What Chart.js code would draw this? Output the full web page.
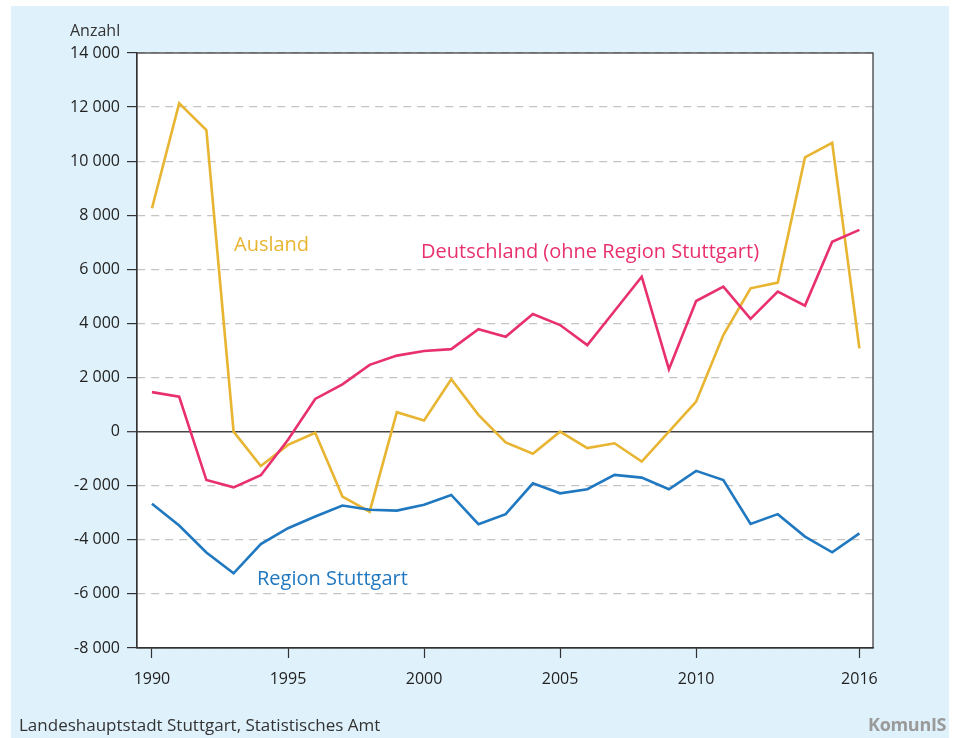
<!DOCTYPE html>
<html lang="de">
<head>
<meta charset="utf-8">
<script src="https://cdn.jsdelivr.net/npm/chart.js@4"></script>
<style>
  html, body { margin: 0; padding: 0; background: #fff; }
  body { width: 954px; height: 738px; position: relative; overflow: hidden;
         font-family: "Open Sans", "Noto Sans", sans-serif; }
  #panel { position: absolute; left: 11px; top: 6px; width: 938px; height: 732px; background: #dff1fb; }
  #wrap { position: absolute; left: 0; top: 0; width: 954px; height: 738px; }
  .txt { position: absolute; white-space: nowrap; line-height: 1; }
  #unit { left: 70px; top: 22px; font-size: 16px; color: #333; }
  #source { left: 19px; top: 716px; font-size: 17px; color: #333; }
  #logo { left: 868px; top: 715px; font-size: 18px; font-weight: bold; color: #9a9a9a; letter-spacing: -0.3px; }
</style>
</head>
<body>
<div id="panel"></div>
<div id="wrap"><canvas id="chart" width="954" height="738"></canvas></div>
<div class="txt" id="unit">Anzahl</div>
<div class="txt" id="source">Landeshauptstadt Stuttgart, Statistisches Amt</div>
<div class="txt" id="logo">KomunIS</div>

<script>
// ── Daten: Wanderungssaldo Stuttgart ──
const years = [1990,1991,1992,1993,1994,1995,1996,1997,1998,1999,2000,2001,2002,2003,
               2004,2005,2006,2007,2008,2009,2010,2011,2012,2013,2014,2015,2016];
const ausland = [8260,12140,11150,0,-1270,-490,-40,-2400,-2960,720,410,1940,620,-400,
                 -820,0,-610,-430,-1110,0,1110,3570,5300,5510,10140,10680,3080];
const deutschland = [1460,1290,-1790,-2060,-1610,-300,1210,1750,2470,2810,2980,3050,3790,3510,
                     4350,3940,3200,4460,5730,2310,4830,5360,4170,5180,4660,7020,7460];
const region = [-2670,-3470,-4470,-5240,-4160,-3570,-3140,-2730,-2890,-2920,-2700,-2340,-3420,-3050,
                -1910,-2280,-2130,-1600,-1700,-2130,-1450,-1790,-3410,-3050,-3880,-4460,-3760];
const xTicks = [1990, 1995, 2000, 2005, 2010, 2016];
const yTicks = [-8000,-6000,-4000,-2000,0,2000,4000,6000,8000,10000,12000,14000];

const C_AUS = '#e8b532';
const C_DE  = '#e8306e';
const C_REG = '#1f78c0';

const pts = arr => arr.map((v, i) => ({ x: years[i], y: v }));
const fmtNum = v => (v < 0 ? '-' : '') + Math.abs(v).toString().replace(/\B(?=(\d{3})+(?!\d))/g, ' ');

// ── weißer Plotbereich, Rahmen + Beschriftungen ──
const framePlugin = {
    id: 'frame',
    beforeDraw(chart) {
        const { ctx, chartArea: a } = chart;
        ctx.save();
        ctx.fillStyle = '#fff';
        ctx.fillRect(a.left, a.top, a.right - a.left, a.bottom - a.top);
        ctx.restore();
    },
    afterDraw(chart) {
        const { ctx, chartArea: a } = chart;
        ctx.save();
        ctx.strokeStyle = '#333';
        ctx.lineWidth = 1.2;
        ctx.strokeRect(a.left, a.top, a.right - a.left, a.bottom - a.top);
        ctx.font = '20px "Open Sans", "Noto Sans", sans-serif';
        ctx.textBaseline = 'middle';
        ctx.textAlign = 'left';
        ctx.fillStyle = C_AUS; ctx.fillText('Ausland', 234, 245);
        ctx.fillStyle = C_DE;  ctx.fillText('Deutschland (ohne Region Stuttgart)', 421, 252);
        ctx.fillStyle = C_REG; ctx.fillText('Region Stuttgart', 257, 579);
        ctx.restore();
    }
};

const line = (label, data, color) => ({
    label, data: pts(data), borderColor: color, backgroundColor: color,
    borderWidth: 2.6, pointRadius: 0, tension: 0, fill: false,
    borderJoinStyle: 'miter'
});

new Chart(document.getElementById('chart'), {
    type: 'line',
    data: {
        datasets: [
            line('Region Stuttgart', region, C_REG),
            line('Deutschland (ohne Region Stuttgart)', deutschland, C_DE),
            line('Ausland', ausland, C_AUS)
        ]
    },
    options: {
        responsive: false,
        animation: false,
        layout: { padding: { left: 0, top: 53, right: 81, bottom: 50 } },
        plugins: { legend: { display: false }, tooltip: { enabled: false } },
        scales: {
            x: {
                type: 'linear',
                min: 1989.45, max: 2016.5,
                afterBuildTicks: s => { s.ticks = xTicks.map(v => ({ value: v })); },
                afterFit: s => { s.height = 40; },
                grid: { drawOnChartArea: false, drawTicks: true, tickLength: 10, tickColor: '#333', tickWidth: 1.2 },
                border: { display: true, color: '#333', width: 1.2 },
                ticks: {
                    color: '#222', padding: 12, maxRotation: 0, autoSkip: false,
                    font: { family: '"Open Sans", "Noto Sans", sans-serif', size: 16 },
                    callback: v => String(v)
                }
            },
            y: {
                min: -8000, max: 14000,
                afterBuildTicks: s => { s.ticks = yTicks.map(v => ({ value: v })); },
                afterFit: s => { s.width = 137; },
                grid: {
                    drawTicks: true, tickLength: 10, tickColor: '#333', tickWidth: 1.2,
                    color: c => (c.tick && c.tick.value === 0) ? '#444' : '#c4c4c4',
                    lineWidth: c => (c.tick && c.tick.value === 0) ? 1.4 : 1.2
                },
                border: {
                    display: true, color: '#333', width: 1.2,
                    dash: c => (c.tick && c.tick.value === 0) ? [] : [8, 6]
                },
                ticks: {
                    color: '#222', padding: 7, autoSkip: false,
                    font: { family: '"Open Sans", "Noto Sans", sans-serif', size: 16 },
                    callback: v => fmtNum(v)
                }
            }
        }
    },
    plugins: [framePlugin]
});
</script>
</body>
</html>
